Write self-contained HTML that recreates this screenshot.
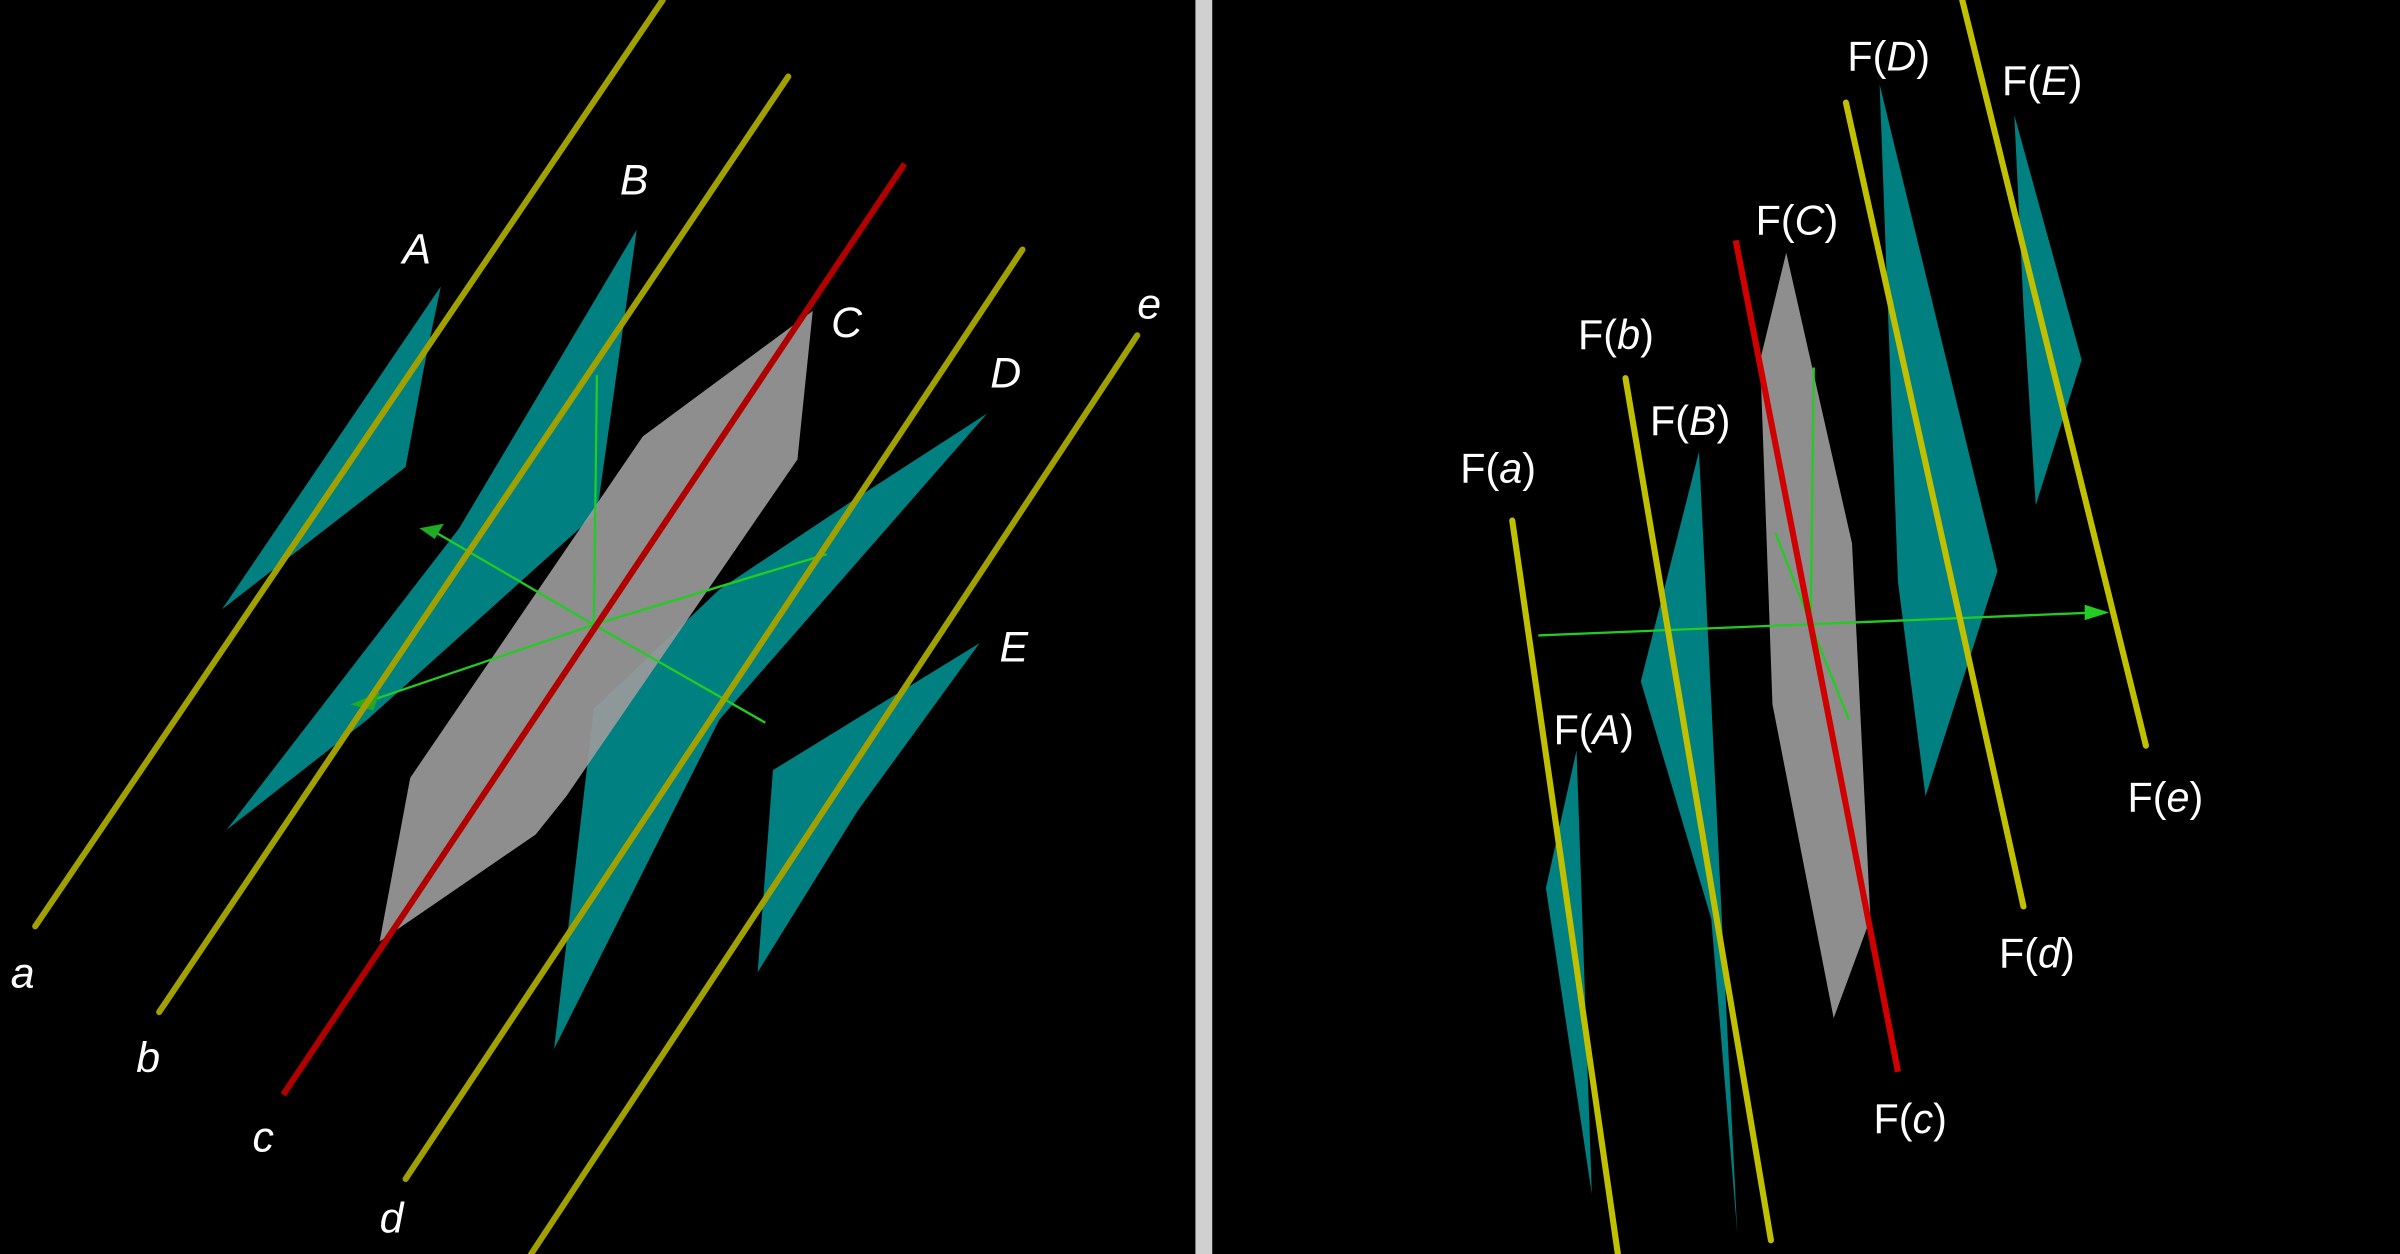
<!DOCTYPE html>
<html><head><meta charset="utf-8"><style>
html,body{margin:0;padding:0;background:#000;}
svg{display:block;}
text{font-family:"Liberation Sans",sans-serif;fill:#fff;}
</style></head><body>
<svg width="2400" height="1254" viewBox="0 0 1568 819" preserveAspectRatio="none" xmlns="http://www.w3.org/2000/svg">
<rect width="1568" height="819" fill="#000"/>
<rect x="781" y="0" width="11" height="819" fill="#d0d0d0"/>
<!-- LEFT -->
<g>
<polygon points="145,398 288,187 277,240 265,305" fill="#008080"/>
<polygon points="148,542 300,345 416,150 402,250 390,335 240,470" fill="#008080"/>
<polygon points="362,685 388,463 470,385 560,325 645,270 540,390 470,470" fill="#008080"/>
<polygon points="495,635 505,503 640,420 560,530" fill="#008080"/>
<polygon points="248,615 268,508 420,285 531,203 521,300 370,520 350,545" fill="#9a9a9a" opacity="0.92"/>
<g stroke="#22cc22" stroke-width="1.5" fill="none">
<line x1="388" y1="408" x2="390" y2="245"/>
<line x1="388" y1="408" x2="280" y2="345"/>
<line x1="388" y1="408" x2="235" y2="460"/>
<line x1="388" y1="408" x2="500" y2="472"/>
<line x1="388" y1="408" x2="540" y2="362"/>
</g>
<polygon points="274,345 290,342 284,352" fill="#22aa22"/>
<polygon points="229,460 248,452 244,464" fill="#22aa22"/>
<g stroke="#a0a000" stroke-width="4" stroke-linecap="round">
<line x1="23" y1="605" x2="433" y2="0"/>
<line x1="104" y1="661" x2="515" y2="50"/>
<line x1="265" y1="770" x2="668" y2="163"/>
<line x1="347" y1="819" x2="743" y2="219"/>
</g>
<line x1="185" y1="715" x2="591" y2="107" stroke="#b00000" stroke-width="4"/>
<g font-size="28" font-style="italic">
<text x="263" y="172">A</text><text x="405" y="127">B</text><text x="543" y="220">C</text>
<text x="647" y="253">D</text><text x="653" y="432">E</text>
<text x="7" y="645">a</text><text x="89" y="700">b</text><text x="165" y="752">c</text>
<text x="248" y="805">d</text><text x="743" y="208">e</text>
</g>
</g>
<!-- RIGHT -->
<g>
<polygon points="1010,580 1030,490 1040,780" fill="#008080"/>
<polygon points="1072,445 1110,295 1135,805 1118,600" fill="#008080"/>
<polygon points="1228,55 1305,373 1258,520 1240,380" fill="#008080"/>
<polygon points="1316,75 1360,235 1330,330 1322,200" fill="#008080"/>
<polygon points="1150,235 1167,165 1210,355 1222,600 1198,665 1158,460" fill="#9a9a9a" opacity="0.92"/>
<g stroke="#22cc22" stroke-width="1.5" fill="none">
<line x1="1005" y1="415" x2="1370" y2="400"/>
<line x1="1183" y1="408" x2="1185" y2="240"/>
<line x1="1183" y1="408" x2="1160" y2="348"/>
<line x1="1183" y1="408" x2="1208" y2="470"/>
</g>
<polygon points="1378,400 1362,395 1362,405" fill="#22cc22"/>
<g stroke="#c0c000" stroke-width="4" stroke-linecap="round">
<line x1="988" y1="340" x2="1057" y2="819"/>
<line x1="1062" y1="247" x2="1157" y2="810"/>
<line x1="1206" y1="67" x2="1322" y2="592"/>
<line x1="1282" y1="0" x2="1402" y2="487"/>
</g>
<line x1="1134" y1="157" x2="1240" y2="700" stroke="#d00000" stroke-width="4"/>
<g font-size="27">
<text x="954" y="315">F(<tspan font-style="italic">a</tspan>)</text>
<text x="1031" y="228">F(<tspan font-style="italic">b</tspan>)</text>
<text x="1147" y="153">F(<tspan font-style="italic">C</tspan>)</text>
<text x="1078" y="284">F(<tspan font-style="italic">B</tspan>)</text>
<text x="1015" y="486">F(<tspan font-style="italic">A</tspan>)</text>
<text x="1207" y="46">F(<tspan font-style="italic">D</tspan>)</text>
<text x="1308" y="62">F(<tspan font-style="italic">E</tspan>)</text>
<text x="1390" y="530">F(<tspan font-style="italic">e</tspan>)</text>
<text x="1306" y="632">F(<tspan font-style="italic">d</tspan>)</text>
<text x="1224" y="740">F(<tspan font-style="italic">c</tspan>)</text>
</g>
</g>
</svg>
</body></html>
